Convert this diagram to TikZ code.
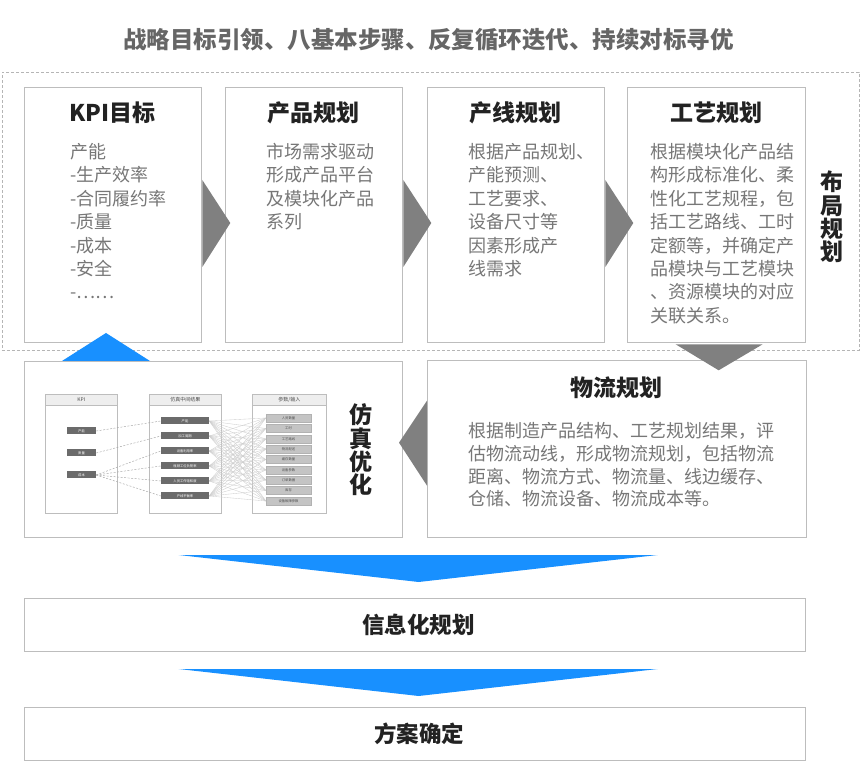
\documentclass[tikz,border=0pt]{standalone}
\usepackage{fontspec}
\setmainfont{Noto Sans CJK SC}
\usetikzlibrary{calc}
\definecolor{bordc}{HTML}{BDBDBD}
\definecolor{arrg}{HTML}{808080}
\definecolor{blueA}{HTML}{1890FF}
\definecolor{headc}{HTML}{222222}
\definecolor{bodyc}{HTML}{777777}
\definecolor{titlec}{HTML}{666666}
\definecolor{dashc}{HTML}{B5B5B5}
\definecolor{hdrc}{HTML}{EEEEEE}
\definecolor{kfill}{HTML}{6B6B6B}
\definecolor{rfill}{HTML}{C4C4C4}
\definecolor{wirec}{HTML}{CFCFCF}
\begin{document}
\begin{tikzpicture}[x=1pt,y=-1pt,
  box/.style={draw=bordc, line width=1.3pt, fill=white, inner sep=0pt, anchor=north west},
  head/.style={font=\bfseries\fontsize{23}{25}\selectfont, text=headc, inner sep=0pt},
  body/.style={font=\fontsize{18}{23.4}\selectfont, text=bodyc, align=left, text width=330pt, inner sep=0pt, anchor=base west},
  vert/.style={font=\bfseries\fontsize{23}{23.4}\selectfont, text=headc, align=center, inner sep=0pt},
  chev/.style={fill=arrg},
  bluearr/.style={fill=blueA},
  pan/.style={draw=bordc, line width=0.7pt, fill=white, inner sep=0pt, anchor=north west},
  panhead/.style={draw=bordc, line width=0.7pt, fill=hdrc, inner sep=0pt, anchor=north west, minimum height=11pt, font=\fontsize{5}{6}\selectfont, text=black!70},
  kbox/.style={fill=kfill, inner sep=0pt, minimum height=7pt, font=\fontsize{3.3}{4}\selectfont, text=white},
  rbox/.style={fill=rfill, draw=black!30, line width=0.3pt, inner sep=0pt, minimum width=45pt, minimum height=8pt, font=\fontsize{3.3}{4}\selectfont, text=black!70},
  wire/.style={draw=wirec, line width=0.35pt},
  kdash/.style={draw=black!35, line width=0.45pt, dash pattern=on 2pt off 1.5pt}
]
\useasboundingbox (0,0) rectangle (860,775);
\fill[white] (0,0) rectangle (860,775);

% title
\node[font=\bfseries\fontsize{23.5}{26}\selectfont, text=titlec, inner sep=0pt] (title) at (428.5,40) {战略目标引领、八基本步骤、反复循环迭代、持续对标寻优};

% dashed frame
\node[draw=dashc, line width=0.8pt, dash pattern=on 3pt off 2pt, inner sep=0pt, anchor=north west, minimum width=857pt, minimum height=278pt] (frame) at (1.5,72) {};

% top boxes
\node[box, minimum width=177pt, minimum height=255pt] (b1) at (24,87) {};
\node[box, minimum width=177pt, minimum height=255pt] (b2) at (225,87) {};
\node[box, minimum width=177pt, minimum height=255pt] (b3) at (427,87) {};
\node[box, minimum width=178pt, minimum height=255pt] (b4) at (627,87) {};

\node[head] (h1) at (112.5,113) {KPI目标};
\node[head] (h2) at (313.5,113) {产品规划};
\node[head] (h3) at (515.5,113) {产线规划};
\node[head] (h4) at (716,113) {工艺规划};

\node[body] (t1) at (70,158.5) {产能\\-生产效率\\-合同履约率\\-质量\\-成本\\-安全\\-……};
\node[body] (t2) at (266,158.5) {市场需求驱动\\形成产品平台\\及模块化产品\\系列};
\node[body] (t3) at (468,158.5) {根据产品规划、\\产能预测、\\工艺要求、\\设备尺寸等\\因素形成产\\线需求};
\node[body] (t4) at (650,158.5) {根据模块化产品结\\构形成标准化、柔\\性化工艺规程，包\\括工艺路线、工时\\定额等，并确定产\\品模块与工艺模块\\、资源模块的对应\\关联关系。};

\node[vert] (v1) at (832,217) {布\\局\\规\\划};

% gray chevrons
\fill[chev] ($(b1.north east)+(0,93)$) -- ($(b1.north east)+(28,136)$) -- ($(b1.north east)+(0,180)$) -- cycle;
\fill[chev] ($(b2.north east)+(0,93)$) -- ($(b2.north east)+(28,136)$) -- ($(b2.north east)+(0,180)$) -- cycle;
\fill[chev] ($(b3.north east)+(0,93)$) -- ($(b3.north east)+(28,136)$) -- ($(b3.north east)+(0,180)$) -- cycle;

% middle row
\node[box, minimum width=378pt, minimum height=176pt] (sim) at (24,361) {};
\node[box, minimum width=379pt, minimum height=177pt] (log) at (427,360) {};

\fill[chev] ($(b4.south)+(-41,1)$) -- ($(b4.south)+(46,1)$) -- ($(b4.south)+(2,27)$) -- cycle;
\fill[chev] ($(log.west)+(0,-48.5)$) -- ($(log.west)+(0,36.5)$) -- ($(log.west)+(-28,-6.5)$) -- cycle;
\fill[bluearr] ($(sim.north west)+(38,0)$) -- ($(sim.north west)+(126,0)$) -- ($(sim.north west)+(82,-28)$) -- cycle;

\node[head] (h5) at (616.5,388) {物流规划};
\node[body, font=\fontsize{18}{22.8}\selectfont] (t5) at (468,437.5) {根据制造产品结构、工艺规划结果，评\\估物流动线，形成物流规划，包括物流\\距离、物流方式、物流量、线边缓存、\\仓储、物流设备、物流成本等。};

\node[vert] (v2) at (361,450) {仿\\真\\优\\化};

% embedded simulation sketch
\node[pan, minimum width=72pt, minimum height=119pt] (p1) at (45,394) {};
\node[pan, minimum width=72pt, minimum height=119pt] (p2) at (149,394) {};
\node[pan, minimum width=74pt, minimum height=119pt] (p3) at (252,394) {};
\node[panhead, minimum width=72pt] (p1h) at (45,394) {KPI};
\node[panhead, minimum width=72pt] (p2h) at (149,394) {仿真中间结果};
\node[panhead, minimum width=74pt] (p3h) at (252,394) {参数/输入};

\node[kbox, minimum width=29pt] (k1) at (81.5,431) {产能};
\node[kbox, minimum width=29pt] (k2) at (81.5,453) {质量};
\node[kbox, minimum width=29pt] (k3) at (81.5,475) {成本};

\node[kbox, minimum width=48pt] (m1) at (185,421) {产能};
\node[kbox, minimum width=48pt] (m2) at (185,436) {加工周期};
\node[kbox, minimum width=48pt] (m3) at (185,451) {设备利用率};
\node[kbox, minimum width=48pt] (m4) at (185,466) {瓶颈工位负荷率};
\node[kbox, minimum width=48pt] (m5) at (185,481) {人员工作饱和度};
\node[kbox, minimum width=48pt] (m6) at (185,496) {产线平衡率};

\node[rbox] (r1) at (288.5,418) {人员数量};
\node[rbox] (r2) at (288.5,428.5) {工时};
\node[rbox] (r3) at (288.5,439) {工艺路线};
\node[rbox] (r4) at (288.5,449) {物流配送};
\node[rbox] (r5) at (288.5,459.5) {缓存数量};
\node[rbox] (r6) at (288.5,470) {设备参数};
\node[rbox] (r7) at (288.5,480) {订单数据};
\node[rbox] (r8) at (288.5,490.5) {库存};
\node[rbox] (r9) at (288.5,501) {设备故障参数};

\foreach \i in {1,...,6}{\foreach \j in {1,...,9}{\draw[wire] (m\i.east) -- (r\j.west);}}
\draw[kdash] (k1.east) -- (m1.west);
\draw[kdash] (k2.east) -- (m2.west);
\draw[kdash] (k3.east) -- (m3.west);
\draw[kdash] (k3.east) -- (m4.west);
\draw[kdash] (k3.east) -- (m5.west);
\draw[kdash] (k3.east) -- (m6.west);

% bottom
\node[box, minimum width=781pt, minimum height=53pt] (info) at (24,598) {};
\node[box, minimum width=781pt, minimum height=53pt] (final) at (24,707) {};
\fill[bluearr] ($(info.north)+(-236.5,-43)$) -- ($(info.north)+(242.5,-43)$) -- ($(info.north)+(3.5,-16)$) -- cycle;
\fill[bluearr] ($(final.north)+(-236.5,-38)$) -- ($(final.north)+(242.5,-38)$) -- ($(final.north)+(3.5,-11)$) -- cycle;
\node[head, font=\bfseries\fontsize{22.5}{25}\selectfont] (h6) at ($(info.center)+(3.5,0)$) {信息化规划};
\node[head, font=\bfseries\fontsize{22.5}{25}\selectfont] (h7) at ($(final.center)+(4,0)$) {方案确定};
\end{tikzpicture}
\end{document}
